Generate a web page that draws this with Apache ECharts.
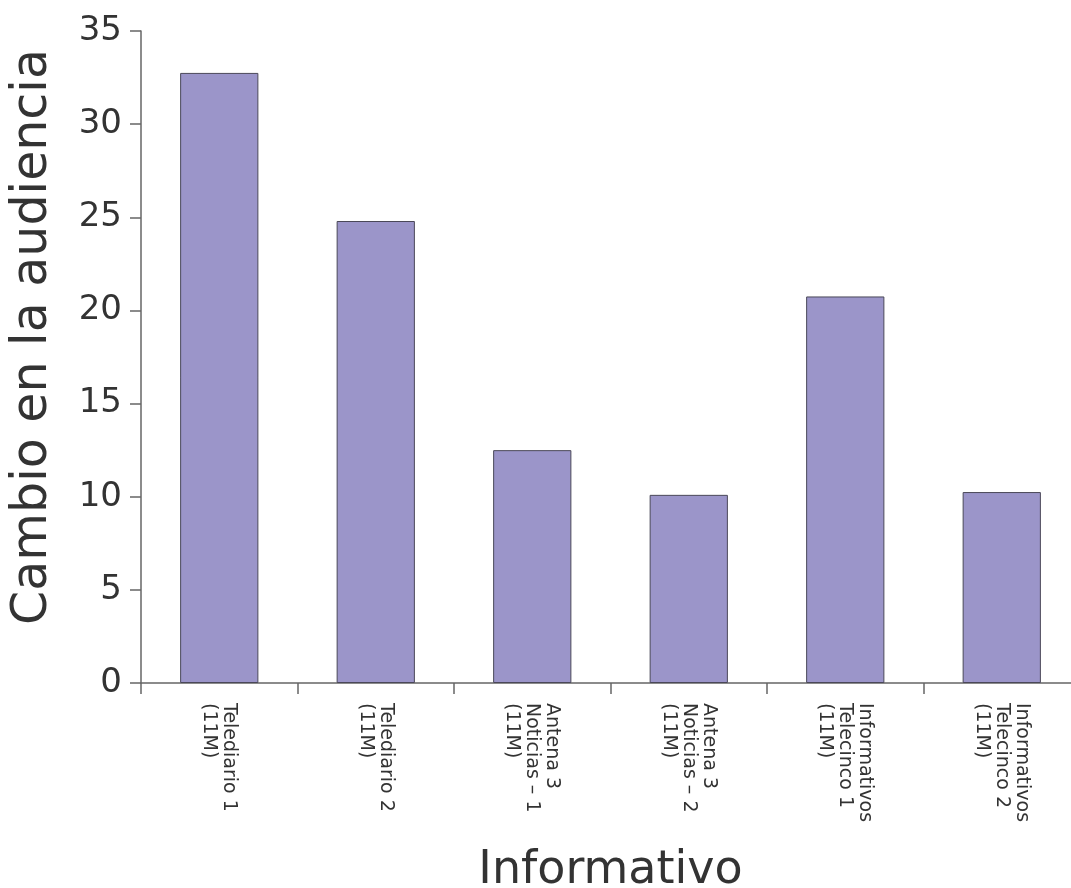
<!DOCTYPE html>
<html><head><meta charset="utf-8">
<script src="https://cdn.jsdelivr.net/npm/echarts@6/dist/echarts.min.js"></script>
<style>html,body{margin:0;padding:0;background:#fff}#c{width:1071px;height:888px}</style>
</head><body><div id="c"></div>
<script>
const categories = [
  "Telediario 1\n(11M)",
  "Telediario 2\n(11M)",
  "Antena 3\nNoticias – 1\n(11M)",
  "Antena 3\nNoticias – 2\n(11M)",
  "Informativos\nTelecinco 1\n(11M)",
  "Informativos\nTelecinco 2\n(11M)"
];
const values = [32.75, 24.8, 12.5, 10.1, 20.75, 10.25];
const yTicks = [0, 5, 10, 15, 20, 25, 30, 35];

const chart = echarts.init(document.getElementById('c'), null, {renderer: 'canvas'});
const font = 'DejaVu Sans';
chart.setOption({
  animation: false,
  backgroundColor: '#ffffff',
  grid: {left: 141, top: 31, right: -9, bottom: 205, containLabel: false, outerBoundsMode: 'none'},
  xAxis: {
    type: 'category',
    data: categories,
    name: 'Informativo',
    nameLocation: 'middle',
    nameGap: 165,
    nameTextStyle: {fontFamily: font, fontSize: 46, color: '#333'},
    axisLine: {lineStyle: {color: '#666', width: 1.5}},
    axisTick: {show: true, length: 11, lineStyle: {color: '#666', width: 1.5}, alignWithLabel: false},
    axisLabel: {rotate: -90, margin: 20, fontFamily: font, fontSize: 19, lineHeight: 20, color: '#333', interval: 0}
  },
  yAxis: {
    type: 'value',
    min: 0, max: 35, interval: 5,
    name: 'Cambio en la audiencia',
    nameLocation: 'middle',
    nameGap: 83,
    nameTextStyle: {fontFamily: font, fontSize: 49, color: '#333', padding: [0, 0, 0, 40]},
    axisLine: {show: true, lineStyle: {color: '#666', width: 1.5}},
    axisTick: {show: true, length: 11, lineStyle: {color: '#666', width: 1.5}},
    splitLine: {show: false},
    axisLabel: {fontFamily: font, fontSize: 34, color: '#333', margin: 19,
      formatter: v => yTicks.includes(v) ? String(v) : ''}
  },
  series: [{
    type: 'bar',
    data: values,
    barWidth: '50%',
    itemStyle: {color: '#9b95c9', borderColor: '#4a4858', borderWidth: 1}
  }]
});
</script></body></html>
